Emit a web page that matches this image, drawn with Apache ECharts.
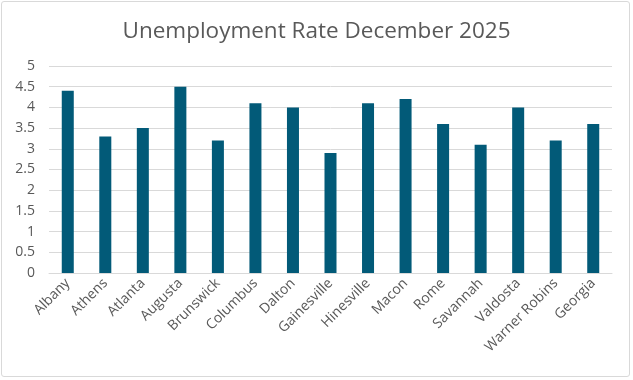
<!DOCTYPE html>
<html><head><meta charset="utf-8">
<script src="https://cdn.jsdelivr.net/npm/echarts@6/dist/echarts.min.js"></script>
<style>
html,body{margin:0;padding:0;background:#fff;}
#wrap{position:absolute;left:1px;top:1px;width:629px;height:376px;border:1px solid #d9d9d9;border-radius:3px;box-sizing:border-box;}
#c{width:633px;height:380px;position:absolute;left:0;top:0;}
</style></head>
<body>
<div id="wrap"></div>
<div id="c"></div>
<script>
const title = "Unemployment Rate December 2025";
const categories = ["Albany","Athens","Atlanta","Augusta","Brunswick","Columbus","Dalton","Gainesville","Hinesville","Macon","Rome","Savannah","Valdosta","Warner Robins","Georgia"];
const rates = [4.4,3.3,3.5,4.5,3.2,4.1,4.0,2.9,4.1,4.2,3.6,3.1,4.0,3.2,3.6];
const yMin = 0, yMax = 5, yStep = 0.5;

const chart = echarts.init(document.getElementById('c'), null, {renderer:'canvas'});
const font = "'Open Sans', sans-serif";
chart.setOption({
  animation:false,
  backgroundColor:'transparent',
  title:{text:title,left:'center',top:15,textStyle:{fontFamily:font,fontSize:22.5,fontWeight:'normal',color:'#595959'}},
  grid:{left:49,right:21,top:66,bottom:107,containLabel:false},
  xAxis:{type:'category',data:categories,
    axisLine:{lineStyle:{color:'#d9d9d9'}},axisTick:{show:false},
    axisLabel:{rotate:45,interval:0,fontFamily:font,fontSize:14,color:'#595959',margin:8}},
  yAxis:{type:'value',min:yMin,max:yMax,interval:yStep,
    axisLine:{show:false},axisTick:{show:false},
    splitLine:{lineStyle:{color:'#d9d9d9'}},
    axisLabel:{fontFamily:font,fontSize:14,color:'#595959',margin:14}},
  series:[{type:'bar',data:rates,barWidth:'32%',itemStyle:{color:'#025a78'}}]
});
</script>
</body></html>
